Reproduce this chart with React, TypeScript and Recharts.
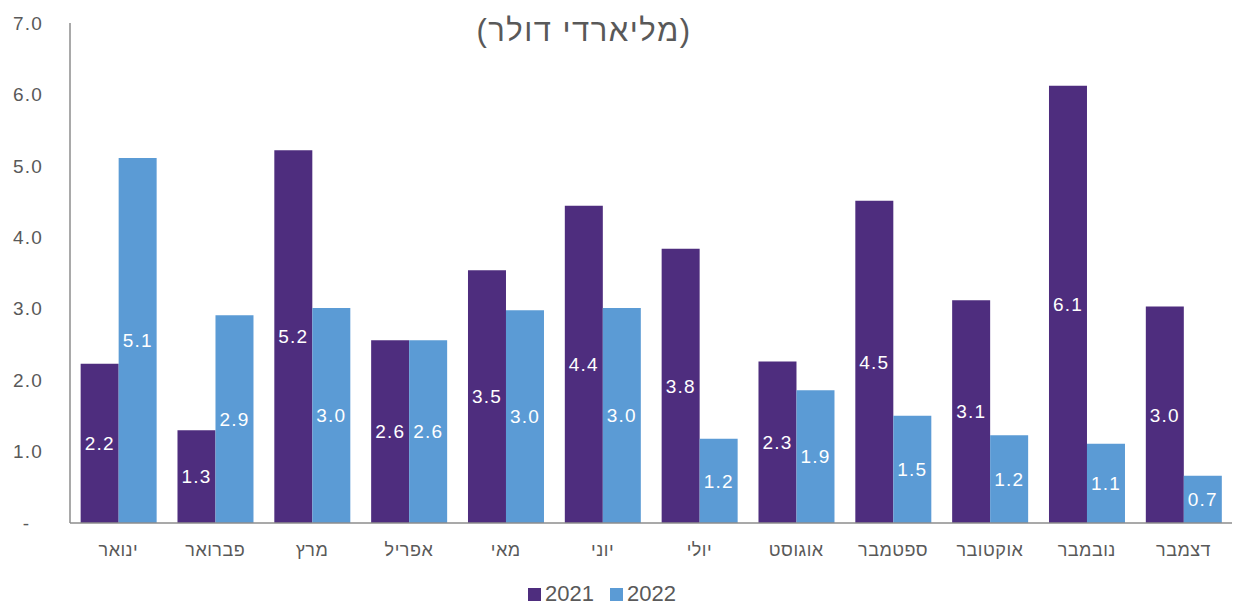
import React from "react";
import { BarChart, Bar, XAxis, YAxis, LabelList, Legend } from "recharts";

const months = ["ינואר", "פברואר", "מרץ", "אפריל", "מאי", "יוני", "יולי", "אוגוסט", "ספטמבר", "אוקטובר", "נובמבר", "דצמבר"];
const values2021 = [2.23, 1.3, 5.22, 2.56, 3.54, 4.44, 3.84, 2.26, 4.51, 3.12, 6.12, 3.03];
const values2022 = [5.11, 2.91, 3.01, 2.56, 2.98, 3.01, 1.18, 1.86, 1.5, 1.23, 1.11, 0.66];
const yTicks = [0, 1, 2, 3, 4, 5, 6, 7];
const seriesNames = ["2021", "2022"];
const titleText = "(מליארדי דולר)";

const C2021 = "#4E2D7E";
const C2022 = "#5B9BD5";
const GRAY = "#595959";
const FONT = "'Liberation Sans', Arial, sans-serif";

const data = months.map((m, i) => ({ month: m, y2021: values2021[i], y2022: values2022[i] }));

const YTick = (props: any) => {
  const { x, y, payload } = props;
  const v = payload.value;
  if (v === 0) {
    return (
      <text x={x - 33} y={y} dy="0.35em" textAnchor="end" fill={GRAY} fontSize={19} fontFamily={FONT}>
        -
      </text>
    );
  }
  return (
    <text x={x - 19} y={y} dy="0.35em" textAnchor="end" fill={GRAY} fontSize={19} letterSpacing={1.2} fontFamily={FONT}>
      {v.toFixed(1)}
    </text>
  );
};

const LegendContent = () => (
  <div style={{ display: "flex", justifyContent: "center", alignItems: "center", fontFamily: FONT, fontSize: 22, lineHeight: "24px", color: GRAY }}>
    <span style={{ display: "inline-block", width: 13, height: 13, background: C2021, marginRight: 4 }} />
    <span style={{ marginRight: 16 }}>{seriesNames[0]}</span>
    <span style={{ display: "inline-block", width: 13, height: 13, background: C2022, marginRight: 4 }} />
    <span>{seriesNames[1]}</span>
  </div>
);

export default function App() {
  return (
    <div style={{ position: "absolute", left: 0, top: 0, width: 1234, height: 604, background: "#fff" }}>
      <style>{"body{margin:0;}"}</style>
      <BarChart
        width={1234}
        height={604}
        data={data}
        margin={{ top: 23, right: 2, left: 0, bottom: 0 }}
        barCategoryGap="11%"
        barGap={0}
      >
        <text x={584} y={30} dy="0.35em" textAnchor="middle" fill={GRAY} fontSize={31} letterSpacing={1.5} fontFamily={FONT}>
          {titleText}
        </text>
        <XAxis
          dataKey="month"
          axisLine={{ stroke: "#8C8C8C", strokeWidth: 1.5 }}
          tickLine={false}
          tick={{ fill: GRAY, fontSize: 18, fontFamily: FONT, letterSpacing: 0.5 }}
          tickMargin={14}
          height={50}
          interval={0}
        />
        <YAxis
          domain={[0, 7]}
          ticks={yTicks}
          width={70}
          axisLine={{ stroke: "#8C8C8C", strokeWidth: 1.5 }}
          tickLine={false}
          tick={<YTick />}
          interval={0}
        />
        <Legend
          verticalAlign="bottom"
          height={31}
          content={<LegendContent />}
          wrapperStyle={{ left: 0, width: 1204, bottom: -9 }}
        />
        <Bar dataKey="y2021" name={seriesNames[0]} fill={C2021} isAnimationActive={false}>
          <LabelList
            dataKey="y2021"
            position="center"
            fill="#FFFFFF"
            fontSize={19}
            letterSpacing={1.2}
            fontFamily={FONT}
            formatter={(v: any) => Number(v).toFixed(1)}
          />
        </Bar>
        <Bar dataKey="y2022" name={seriesNames[1]} fill={C2022} isAnimationActive={false}>
          <LabelList
            dataKey="y2022"
            position="center"
            fill="#FFFFFF"
            fontSize={19}
            letterSpacing={1.2}
            fontFamily={FONT}
            formatter={(v: any) => Number(v).toFixed(1)}
          />
        </Bar>
      </BarChart>
    </div>
  );
}
